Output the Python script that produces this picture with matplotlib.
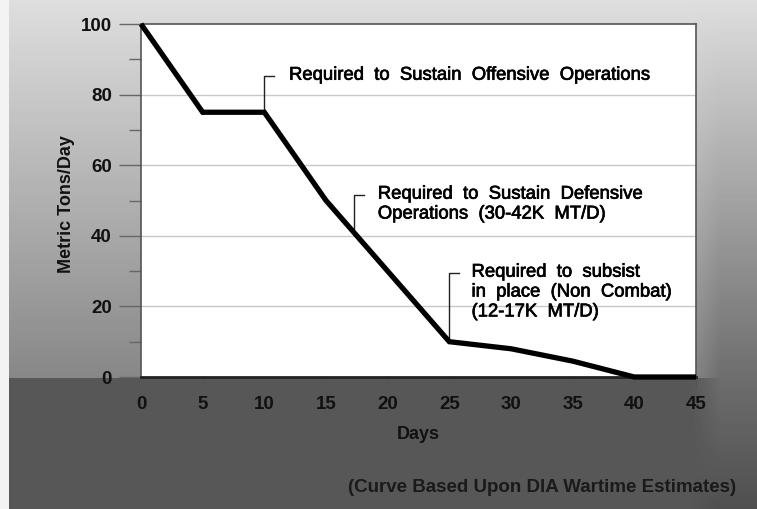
import matplotlib
matplotlib.use('Agg')
import matplotlib.pyplot as plt
import matplotlib.patheffects as pe
from matplotlib.ticker import MultipleLocator
import numpy as np

# throughput curve
days = [0, 5, 10, 15, 25, 30, 35, 40, 45]
tons = [100, 75, 75, 50, 10, 8, 4.5, 0, 0]

x_ticks = [0, 5, 10, 15, 20, 25, 30, 35, 40, 45]
y_ticks = [0, 20, 40, 60, 80, 100]

notes = [
    "Required  to  Sustain  Offensive  Operations",
    "Required  to  Sustain  Defensive\nOperations  (30-42K  MT/D)",
    "Required  to  subsist\nin  place  (Non  Combat)\n(12-17K  MT/D)",
]
# (bracket x, curve y at bracket, bracket top y, text x)
note_pos = [(10, 75, 85.3, 12.0), (17.3, 40.8, 51.6, 19.2), (25, 10, 29.5, 26.8)]

W, H = 757, 509
fig = plt.figure(figsize=(W / 100, H / 100), dpi=100)

# gray backdrop, lighter at the top and darker below the plot
yy, xx = np.mgrid[0:H, 0:W].astype(float)
left_v = 0.87 - 0.34 * (yy / 377.0)
right_v = 0.87 - 0.44 * (yy / 377.0)
mix = np.clip((xx - 690) / 30.0, 0, 1)
bg = left_v * (1 - mix) + right_v * mix
below = yy >= 378
bg_below = 0.34 * (1 - mix) + (0.43 - 0.12 * (yy - 377) / 132.0) * mix
bg = np.where(below, bg_below, bg)
bg[:, :9] = 0.95
bg = np.clip(bg, 0, 1)
bgax = fig.add_axes([0, 0, 1, 1], zorder=-10)
bgax.imshow(bg, cmap='gray', vmin=0, vmax=1, aspect='auto', interpolation='bilinear')
bgax.axis('off')

ax = fig.add_axes([141 / W, (H - 377) / H, (696 - 141) / W, (377 - 24) / H])
ax.set_facecolor('white')
ax.set_xlim(0, 45)
ax.set_ylim(0, 100)

ax.yaxis.set_major_locator(MultipleLocator(20))
ax.yaxis.set_minor_locator(MultipleLocator(10))
ax.set_xticks(x_ticks)
ax.set_yticks(y_ticks)

tick_font = dict(family='Liberation Sans', weight='bold', size=13.5)
ax.set_xticklabels([str(t) for t in x_ticks], fontdict=tick_font, color='#111111')
ax.set_yticklabels([str(t) for t in y_ticks], fontdict=tick_font, color='#111111')

ax.tick_params(axis='y', which='major', length=16, width=1.0, color='#666666', pad=5)
ax.tick_params(axis='y', which='minor', length=9, width=1.0, color='#666666')
ax.tick_params(axis='x', which='major', length=7, width=1.0, color='#555555', pad=7)

for v in y_ticks[1:-1]:
    ax.axhline(v, color='#c8c8c8', linewidth=1.0, zorder=1)

for side in ['top', 'right', 'left']:
    ax.spines[side].set_color('#555555')
    ax.spines[side].set_linewidth(1.2)
ax.spines['bottom'].set_color('#222222')
ax.spines['bottom'].set_linewidth(2.0)

ax.plot(days, tons, color='black', linewidth=3.8, solid_joinstyle='miter',
        solid_capstyle='butt', zorder=5, clip_on=False)

heavy = [pe.withStroke(linewidth=0.5, foreground='black')]
for (bx, cy, ty, tx), text in zip(note_pos, notes):
    ax.plot([bx, bx, bx + 0.8], [cy, ty, ty], color='#222222', linewidth=1.0, zorder=4)
    ax.text(tx, ty + 2.6, text, family='Liberation Sans', fontsize=13.3, color='black',
            va='top', ha='left', linespacing=1.22, path_effects=heavy)

ax.set_ylabel('Metric Tons/Day', family='Liberation Sans',
              weight='bold', fontsize=13, color='#111111')
ax.yaxis.set_label_coords(-66 / 555, 0.49)
ax.set_xlabel('Days', family='Liberation Sans',
              weight='bold', fontsize=13, color='#111111', labelpad=9)

fig.text(736 / W, 1 - 488 / H, '(Curve Based Upon DIA Wartime Estimates)',
         family='Liberation Sans', weight='bold',
         fontsize=13.5, color='#1a1a1a', ha='right', va='center')

fig.savefig('out.png', dpi=100)
